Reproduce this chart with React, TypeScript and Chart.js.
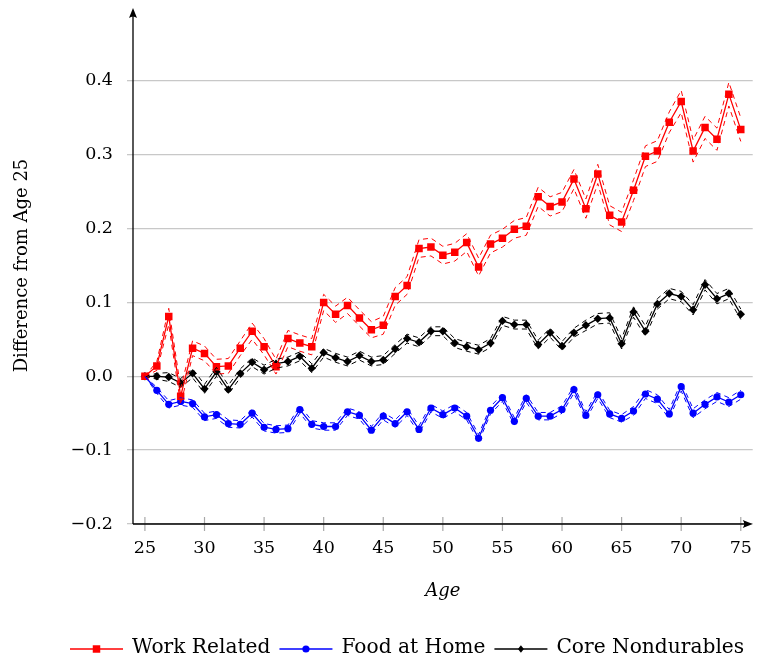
import { useEffect, useRef } from 'react';
import { Chart, registerables } from 'chart.js';

Chart.register(...registerables);

const ages = [
  25, 26, 27, 28, 29, 30, 31, 32, 33, 34, 35, 36, 37, 38, 39, 40, 41, 42, 43, 44, 45, 46, 47, 48, 49, 50,
  51, 52, 53, 54, 55, 56, 57, 58, 59, 60, 61, 62, 63, 64, 65, 66, 67, 68, 69, 70, 71, 72, 73, 74, 75,
];

const workRelated = [
  0, 0.014, 0.081, -0.027, 0.038, 0.031, 0.013, 0.014, 0.038, 0.061, 0.04, 0.013, 0.051, 0.045, 0.04, 0.1,
  0.084, 0.096, 0.079, 0.063, 0.069, 0.108, 0.123, 0.173, 0.175, 0.164, 0.168, 0.181, 0.148, 0.179, 0.187,
  0.199, 0.203, 0.243, 0.23, 0.236, 0.267, 0.227, 0.274, 0.218, 0.209, 0.252, 0.298, 0.305, 0.344, 0.372,
  0.305, 0.337, 0.321, 0.382, 0.334,
];
const workSe = [
  0, 0.006, 0.011, 0.011, 0.01, 0.01, 0.01, 0.01, 0.01, 0.011, 0.011, 0.01, 0.011, 0.011, 0.011, 0.011,
  0.011, 0.011, 0.011, 0.011, 0.012, 0.012, 0.012, 0.012, 0.012, 0.012, 0.012, 0.012, 0.012, 0.012, 0.012,
  0.012, 0.012, 0.013, 0.013, 0.013, 0.013, 0.013, 0.013, 0.013, 0.013, 0.014, 0.014, 0.014, 0.014, 0.015,
  0.015, 0.015, 0.015, 0.016, 0.016,
];

const foodAtHome = [
  0, -0.019, -0.038, -0.034, -0.037, -0.055, -0.052, -0.064, -0.065, -0.05, -0.069, -0.072, -0.071, -0.045,
  -0.065, -0.068, -0.068, -0.048, -0.053, -0.073, -0.054, -0.064, -0.048, -0.072, -0.043, -0.052, -0.043,
  -0.054, -0.084, -0.046, -0.029, -0.061, -0.03, -0.054, -0.054, -0.045, -0.018, -0.053, -0.025, -0.051,
  -0.057, -0.047, -0.024, -0.031, -0.051, -0.014, -0.05, -0.038, -0.028, -0.035, -0.025,
];
const foodSe = [
  0, 0.004, 0.005, 0.005, 0.005, 0.005, 0.005, 0.005, 0.005, 0.005, 0.005, 0.005, 0.005, 0.005, 0.005,
  0.005, 0.005, 0.005, 0.005, 0.005, 0.005, 0.005, 0.005, 0.005, 0.005, 0.005, 0.005, 0.005, 0.005, 0.005,
  0.005, 0.005, 0.005, 0.005, 0.005, 0.005, 0.005, 0.005, 0.005, 0.005, 0.005, 0.006, 0.006, 0.006, 0.006,
  0.006, 0.006, 0.006, 0.006, 0.006, 0.006,
];

const coreNondurables = [
  0, 0, -0.001, -0.009, 0.004, -0.017, 0.006, -0.018, 0.004, 0.019, 0.009, 0.017, 0.02, 0.027, 0.011, 0.032,
  0.025, 0.02, 0.028, 0.02, 0.022, 0.037, 0.051, 0.046, 0.061, 0.061, 0.045, 0.04, 0.036, 0.045, 0.075, 0.07,
  0.07, 0.043, 0.059, 0.041, 0.059, 0.069, 0.078, 0.079, 0.044, 0.087, 0.061, 0.098, 0.112, 0.108, 0.09,
  0.124, 0.105, 0.112, 0.084,
];
const coreSe = [
  0, 0.004, 0.006, 0.006, 0.006, 0.006, 0.006, 0.006, 0.006, 0.006, 0.006, 0.006, 0.006, 0.006, 0.006,
  0.006, 0.006, 0.006, 0.006, 0.006, 0.006, 0.006, 0.006, 0.006, 0.006, 0.006, 0.006, 0.006, 0.006, 0.006,
  0.006, 0.006, 0.006, 0.006, 0.006, 0.006, 0.006, 0.007, 0.007, 0.007, 0.007, 0.007, 0.007, 0.007, 0.007,
  0.007, 0.007, 0.007, 0.007, 0.007, 0.007,
];

const xTicks = [25, 30, 35, 40, 45, 50, 55, 60, 65, 70, 75];
const yTicks = [-0.2, -0.1, 0, 0.1, 0.2, 0.3, 0.4];

const FONT = '"DejaVu Serif", serif';

const series = [
  { label: 'Work Related', values: workRelated, se: workSe, color: '#ff0000', style: 'rect', radius: 5.3 },
  { label: 'Food at Home', values: foodAtHome, se: foodSe, color: '#0000ff', style: 'circle', radius: 3.6 },
  { label: 'Core Nondurables', values: coreNondurables, se: coreSe, color: '#000000', style: 'rectRot', radius: 4.2 },
];

function drawMarker(ctx: CanvasRenderingContext2D, style: string, x: number, y: number, r: number) {
  ctx.beginPath();
  if (style === 'rect') {
    const s = r * Math.SQRT1_2;
    ctx.rect(x - s, y - s, 2 * s, 2 * s);
  } else if (style === 'circle') {
    ctx.arc(x, y, r, 0, Math.PI * 2);
  } else {
    const s = r * Math.SQRT1_2;
    ctx.moveTo(x - s, y);
    ctx.lineTo(x, y - s * 1.3);
    ctx.lineTo(x + s, y);
    ctx.lineTo(x, y + s * 1.3);
    ctx.closePath();
  }
  ctx.fill();
}

// axis lines with arrow heads, x tick marks crossing the axis, and the bottom legend
const decorPlugin = {
  id: 'decor',
  afterDraw(chart: any) {
    const { ctx, chartArea, scales } = chart;
    const { left, right, top, bottom } = chartArea;
    ctx.save();

    ctx.strokeStyle = '#a8a8a8';
    ctx.lineWidth = 1.2;
    xTicks.forEach((v) => {
      const px = scales.x.getPixelForValue(v);
      ctx.beginPath();
      ctx.moveTo(px, bottom - 7);
      ctx.lineTo(px, bottom + 7);
      ctx.stroke();
    });

    ctx.strokeStyle = '#000';
    ctx.fillStyle = '#000';
    ctx.lineWidth = 1.3;
    ctx.beginPath();
    ctx.moveTo(left, bottom);
    ctx.lineTo(left, top + 4);
    ctx.moveTo(left, bottom);
    ctx.lineTo(right - 4, bottom);
    ctx.stroke();

    // up arrow
    const ty = top + 1;
    ctx.beginPath();
    ctx.moveTo(left, ty);
    ctx.lineTo(left - 4, ty + 10);
    ctx.quadraticCurveTo(left, ty + 7, left + 4, ty + 10);
    ctx.closePath();
    ctx.fill();
    // right arrow
    ctx.beginPath();
    ctx.moveTo(right, bottom);
    ctx.lineTo(right - 10, bottom - 4);
    ctx.quadraticCurveTo(right - 7, bottom, right - 10, bottom + 4);
    ctx.closePath();
    ctx.fill();

    // legend
    const ly = 649;
    let lx = 70;
    ctx.font = `20.2px ${FONT}`;
    ctx.textBaseline = 'middle';
    ctx.textAlign = 'left';
    series.forEach((s) => {
      ctx.strokeStyle = s.color;
      ctx.fillStyle = s.color;
      ctx.lineWidth = 1.3;
      ctx.beginPath();
      ctx.moveTo(lx, ly);
      ctx.lineTo(lx + 53, ly);
      ctx.stroke();
      drawMarker(ctx, s.style, lx + 26.5, ly, s.radius);
      ctx.fillStyle = '#000';
      ctx.fillText(s.label, lx + 62, ly - 1);
      lx += 62 + ctx.measureText(s.label).width + 9;
    });

    ctx.restore();
  },
};

function fmtY(v: number) {
  const t = Math.abs(v).toFixed(1);
  return v < -1e-9 ? '\u2212' + t : t;
}

export default function App() {
  const canvasRef = useRef<HTMLCanvasElement>(null);

  useEffect(() => {
    if (!canvasRef.current) return;

    const datasets: any[] = [];
    // dashed confidence bands first
    series.forEach((s) => {
      [1, -1].forEach((sign) => {
        datasets.push({
          label: s.label + (sign > 0 ? ' upper' : ' lower'),
          data: ages.map((a, i) => ({ x: a, y: s.values[i] + sign * s.se[i] })),
          borderColor: s.color,
          borderWidth: 1,
          borderDash: [5, 4],
          pointRadius: 0,
          fill: false,
          tension: 0,
        });
      });
    });
    series.forEach((s) => {
      datasets.push({
        label: s.label,
        data: ages.map((a, i) => ({ x: a, y: s.values[i] })),
        borderColor: s.color,
        borderWidth: 1.3,
        pointStyle: s.style,
        pointRadius: s.radius,
        pointBackgroundColor: s.color,
        pointBorderWidth: 0,
        fill: false,
        tension: 0,
      });
    });

    const chart = new Chart(canvasRef.current, {
      type: 'line',
      data: { datasets },
      options: {
        responsive: false,
        animation: false,
        layout: { padding: { left: 0, top: 7, right: 3, bottom: 0 } },
        plugins: {
          legend: { display: false },
          tooltip: { enabled: false },
        },
        scales: {
          x: {
            type: 'linear',
            min: 24,
            max: 76,
            afterBuildTicks: (s: any) => {
              s.ticks = xTicks.map((v) => ({ value: v }));
            },
            afterFit: (s: any) => {
              s.height = 137;
              s.paddingLeft = 0;
              s.paddingRight = 0;
            },
            grid: { display: false, drawTicks: false },
            border: { display: false },
            ticks: {
              color: '#000',
              font: { family: FONT, size: 17.5 },
              padding: 14,
              maxRotation: 0,
              autoSkip: false,
              callback: (v: any) => String(v),
            },
            title: {
              display: true,
              text: 'Age',
              color: '#000',
              font: { family: FONT, size: 18, style: 'italic' },
              padding: { top: 0, bottom: 59 },
            },
          },
          y: {
            min: -0.2,
            max: 0.5,
            afterBuildTicks: (s: any) => {
              s.ticks = yTicks.map((v) => ({ value: v }));
            },
            afterFit: (s: any) => {
              s.width = 133;
              s.paddingTop = 0;
              s.paddingBottom = 0;
            },
            grid: { color: '#c8c8c8', lineWidth: 1.3, tickLength: 6, drawTicks: true },
            border: { display: false },
            ticks: {
              color: '#000',
              font: { family: FONT, size: 17.5 },
              padding: 14,
              callback: (v: any) => fmtY(Number(v)),
            },
            title: {
              display: true,
              text: 'Difference from Age 25',
              color: '#000',
              font: { family: FONT, size: 18 },
              padding: { top: 12, bottom: 0 },
            },
          },
        },
      },
      plugins: [decorPlugin],
    });

    return () => {
      chart.destroy();
    };
  }, []);

  return (
    <div style={{ position: 'fixed', left: 0, top: 0, width: 758, height: 661, background: '#fff' }}>
      <canvas ref={canvasRef} width={758} height={661} style={{ display: 'block' }}></canvas>
    </div>
  );
}
